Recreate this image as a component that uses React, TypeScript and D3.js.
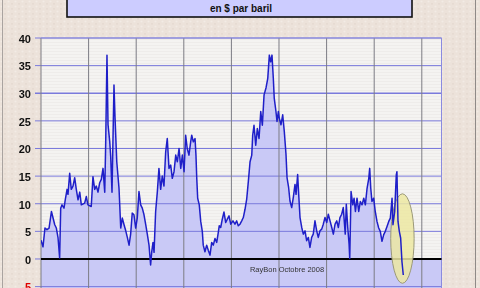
import React from "react";
import * as d3 from "d3";

// month index from start of series, and spread value ($/baril)
const months = [
  0, 1.5, 3.0, 4.5, 6.1, 7.9, 10.4, 11.6, 12.9, 14.1, 14.9, 15.9, 17.4, 18.4, 19.7, 20.4, 21.7, 22.9, 24.2, 25.5,
  26.7, 28.0, 29.3, 30.5, 33.0, 34.3, 35.5, 38.0, 39.3, 40.6, 41.8, 43.1, 44.4, 45.6, 46.9, 48.2, 48.9, 49.9, 50.7, 52.0,
  52.7, 53.7, 55.2, 56.0, 57.3, 59.0, 60.3, 61.5, 62.8, 64.1, 65.3, 66.6, 67.8, 69.0, 70.3, 71.6, 72.8, 74.1, 75.4, 76.6,
  77.9, 79.2, 80.4, 81.7, 82.9, 83.7, 84.7, 85.5, 86.7, 88.0, 89.2, 90.5, 91.7, 93.0, 94.3, 95.5, 96.8, 98.1, 99.3, 100.6,
  101.9, 103.1, 104.4, 105.7, 106.9, 108.2, 109.4, 110.6, 111.9, 113.2, 114.0, 115.2, 116.5, 117.2, 117.8, 118.5, 119.7, 120.8, 122.0, 122.7,
  124.0, 125.3, 126.5, 127.8, 129.1, 130.3, 131.6, 132.9, 134.1, 134.8, 135.9, 137.1, 138.4, 139.7, 140.9, 142.2, 143.5, 145.2, 146.7, 148.0,
  149.2, 150.5, 151.8, 153.0, 154.3, 155.6, 156.8, 158.1, 159.4, 160.1, 161.1, 162.4, 163.6, 164.9, 166.2, 167.4, 168.7, 170.2, 171.5, 172.7,
  173.7, 174.7, 175.7, 176.4, 177.7, 178.5, 179.5, 180.2, 181.5, 182.8, 184.0, 185.3, 186.1, 187.3, 188.3, 189.6, 190.8, 192.1, 192.9, 194.1,
  194.9, 195.9, 197.2, 198.4, 199.7, 200.9, 202.2, 203.4, 204.7, 205.9, 207.2, 208.5, 209.7, 211.0, 212.3, 213.5, 214.8, 216.1, 217.3, 218.6,
  219.9, 221.1, 222.4, 223.7, 224.9, 226.1, 227.4, 228.6, 230.1, 230.9, 232.0, 233.0, 233.5, 234.5, 235.8, 236.8, 237.8, 239.0, 240.3, 241.5,
  242.8, 244.1, 245.3, 246.6, 247.9, 248.6, 249.4, 250.3, 251.6, 252.8, 254.1, 255.4, 256.6, 257.9, 259.2, 260.4, 261.7, 263.0, 264.2, 265.5,
  266.2, 267.5, 268.7, 269.2, 270.0, 271.0, 272.0, 273.0, 274.0,
];
const spread = [
  3.4, 2.2, 5.6, 5.3, 5.6, 8.6, 6.2, 5.6, 3.8, 0.2, 9.2, 9.8, 9.2, 10.8, 12.6, 11.7, 15.5, 12.6, 13.2, 14.7,
  12.6, 10.7, 12.1, 9.8, 10.1, 11.3, 9.8, 9.5, 14.9, 12.6, 13.2, 12.1, 13.8, 14.4, 16.4, 12.1, 20.6, 36.9, 24.3, 21.2,
  18.6, 12.1, 31.5, 25.5, 17.6, 12.8, 5.6, 7.4, 6.2, 5.1, 3.9, 2.5, 4.5, 8.3, 8.0, 5.6, 7.4, 12.2, 9.8, 9.2,
  8.0, 6.2, 4.5, 2.5, -1.1, 1.2, 3.0, 1.2, 8.6, 12.2, 16.4, 12.6, 15.0, 13.2, 19.4, 21.8, 16.4, 17.0, 14.6, 15.8,
  18.8, 17.6, 20.0, 16.4, 18.8, 15.8, 22.4, 20.0, 18.8, 21.2, 22.4, 21.2, 21.8, 18.8, 14.6, 11.0, 9.8, 6.8, 5.0, 2.5,
  1.3, 2.5, 1.6, 0.7, 3.0, 2.5, 3.7, 3.0, 4.8, 6.0, 5.7, 7.2, 8.5, 6.6, 7.2, 7.8, 6.3, 6.9, 6.3, 6.9,
  6.0, 6.3, 6.9, 7.5, 9.0, 10.9, 14.0, 17.6, 18.8, 22.4, 24.2, 20.6, 23.6, 21.8, 26.7, 24.2, 29.7, 31.0, 32.7, 36.9,
  35.7, 36.9, 32.7, 29.1, 26.7, 24.9, 26.7, 25.5, 24.3, 26.1, 23.1, 18.9, 14.7, 12.9, 10.5, 9.3, 11.1, 13.5, 11.7, 15.3,
  11.7, 7.5, 5.7, 4.5, 5.1, 3.3, 3.9, 2.1, 3.9, 4.5, 6.9, 5.1, 3.9, 5.1, 5.4, 6.3, 7.5, 6.6, 8.1, 6.9,
  5.7, 4.5, 6.3, 6.9, 5.7, 7.5, 8.1, 9.3, 4.5, 9.9, 5.7, 2.7, 0.1, 12.2, 9.8, 11.0, 8.6, 11.0, 8.6, 10.4,
  9.8, 11.0, 9.8, 12.8, 14.6, 16.4, 12.8, 10.4, 11.0, 8.6, 6.8, 5.6, 5.0, 3.2, 4.4, 5.0, 5.9, 6.8, 7.4, 11.0,
  6.2, 8.6, 15.2, 15.8, 6.8, 5.0, 3.8, -0.5, -2.9,
];
const yTicks = [40, 35, 30, 25, 20, 15, 10, 5, 0, -5];
const xGridMonths = [0, 36, 72, 108, 144, 180, 216, 252, 288];
const xMaxMonths = 302.9;
const subtitle = "en $ par baril";
const credit = "RayBon Octobre 2008";
const highlight = { from: 264.5, to: 282.2, top: 11.8, bottom: -4.4 };

export default function App() {
  const W = 480, H = 288;
  const left = 41, right = 441.5, top = 38, bottom = 286.6;
  const x = d3.scaleLinear().domain([0, xMaxMonths]).range([left, right]);
  const y = d3.scaleLinear().domain([-5, 40]).range([bottom, top]);
  const pts = months.map((m, i) => [m, spread[i]] as [number, number]);
  const line = d3.line<[number, number]>().x(d => x(d[0])).y(d => y(d[1]));
  const area = d3.area<[number, number]>().x(d => x(d[0])).y0(y(-5)).y1(d => y(d[1]));
  const ex0 = x(highlight.from), ex1 = x(highlight.to);
  const ey0 = y(highlight.top), ey1 = y(highlight.bottom);

  return (
    <div style={{ position: "fixed", left: 0, top: 0 }}>
      <svg width={W} height={H} style={{ display: "block" }}>
        <defs>
          <pattern id="tex" width="7" height="5" patternUnits="userSpaceOnUse">
            <rect width="7" height="5" fill="#ece2da" />
            <circle cx="1.5" cy="1.5" r="1.1" fill="#f2ebe5" />
            <circle cx="5" cy="3.8" r="0.9" fill="#e4d8cf" />
          </pattern>
          <pattern id="stripes" width="4" height="3" patternUnits="userSpaceOnUse">
            <rect width="4" height="3" fill="#f4f3f1" />
            <rect width="4" height="1" fill="#eeecea" />
          </pattern>
          <clipPath id="plotclip">
            <rect x={left} y={top} width={right - left} height={H - top} />
          </clipPath>
        </defs>
        <rect width={W} height={H} fill="url(#tex)" />
        <line x1={2.5} x2={2.5} y1={0} y2={H} stroke="#a9a3a0" />
        <line x1={475.5} x2={475.5} y1={0} y2={H} stroke="#8f8a88" />

        {/* title box */}
        <rect x={67} y={-20} width={345} height={37} fill="#ccccff" stroke="#111" strokeWidth={1.6} />
        <text x={241} y={12} textAnchor="middle" fontFamily="Arial, 'Liberation Sans', sans-serif" fontWeight="bold" fontSize={10} fill="#111">
          {subtitle}
        </text>

        {/* plot background */}
        <rect x={left} y={top} width={right - left} height={H - top} fill="url(#stripes)" />

        <g clipPath="url(#plotclip)">
          <rect x={left} y={y(0)} width={right - left} height={y(-5) - y(0) + 4} fill="#c9c9f6" />
          <path d={area(pts) || ""} fill="#c9c9f6" />
        </g>

        {/* horizontal grid */}
        {yTicks.map(t => (
          <line key={"h" + t} x1={left - 6} x2={right} y1={y(t)} y2={y(t)} stroke="#7a7adc" strokeWidth={t === 30 ? 1.6 : 1} />
        ))}
        {/* vertical grid */}
        {xGridMonths.map(m => (
          <line key={"v" + m} x1={x(m)} x2={x(m)} y1={top} y2={H} stroke="#7c7c84" strokeWidth={1} />
        ))}
        <line x1={right} x2={right} y1={top} y2={H} stroke="#8a8ae0" strokeWidth={1} />
        <line x1={left} x2={right} y1={top} y2={top} stroke="#8a8ad8" strokeWidth={1} />

        {/* zero line */}
        <line x1={left} x2={right} y1={y(0)} y2={y(0)} stroke="#000" strokeWidth={2} />

        <text x={287} y={272} textAnchor="middle" fontFamily="Arial, 'Liberation Sans', sans-serif" fontSize={7.5} fill="#333">
          {credit}
        </text>

        {/* highlight ellipse */}
        <ellipse cx={(ex0 + ex1) / 2} cy={(ey0 + ey1) / 2} rx={(ex1 - ex0) / 2} ry={(ey1 - ey0) / 2}
          fill="#ece8a2" fillOpacity={0.85} stroke="#9a9878" strokeWidth={1} />

        <g clipPath="url(#plotclip)">
          <path d={line(pts) || ""} fill="none" stroke="#1f1fc8" strokeWidth={1.5} strokeLinejoin="round" />
        </g>

        {/* y labels */}
        {yTicks.map(t => (
          <text key={"l" + t} x={31} y={y(t) + 1} dy="0.35em" textAnchor="end"
            fontFamily="Arial, 'Liberation Sans', sans-serif" fontWeight="bold" fontSize={11}
            fill={t < 0 ? "#e00000" : "#111"}>
            {t}
          </text>
        ))}
      </svg>
    </div>
  );
}
